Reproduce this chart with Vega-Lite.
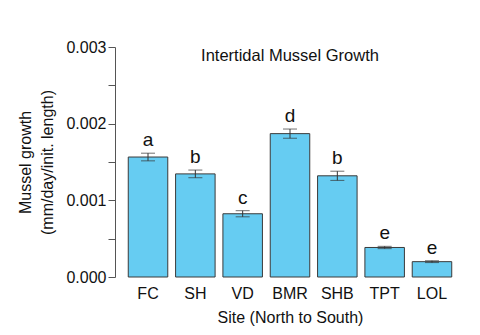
{
  "$schema": "https://vega.github.io/schema/vega-lite/v6.json",
  "autosize": "none",
  "width": 350,
  "height": 230,
  "padding": {"left": 115, "top": 47, "right": 15, "bottom": 58},
  "background": "white",
  "config": {
    "font": "Liberation Sans",
    "view": {"stroke": null}
  },
  "title": {
    "text": "Intertidal Mussel Growth",
    "fontSize": 16.5,
    "fontWeight": "normal",
    "color": "#111",
    "anchor": "middle",
    "offset": -25
  },
  "data": {
    "values": [
      {"site": "FC", "mean": 0.001565, "se": 0.00005, "group": "a"},
      {"site": "SH", "mean": 0.001345, "se": 0.00005, "group": "b"},
      {"site": "VD", "mean": 0.000825, "se": 0.00004, "group": "c"},
      {"site": "BMR", "mean": 0.00187, "se": 0.00006, "group": "d"},
      {"site": "SHB", "mean": 0.00132, "se": 0.00006, "group": "b"},
      {"site": "TPT", "mean": 0.000385, "se": 0.000015, "group": "e"},
      {"site": "LOL", "mean": 0.0002, "se": 0.000012, "group": "e"}
    ]
  },
  "transform": [
    {"calculate": "datum.mean + datum.se", "as": "hi"}
  ],
  "encoding": {
    "x": {
      "field": "site",
      "type": "nominal",
      "sort": null,
      "scale": {"paddingInner": 0.165, "paddingOuter": 0.28},
      "axis": {
        "title": "Site (North to South)",
        "titleFontSize": 16,
        "titleFontWeight": "normal",
        "titleColor": "#111",
        "titlePadding": 8,
        "labelAngle": 0,
        "labelFontSize": 16,
        "labelColor": "#111",
        "labelPadding": 8,
        "ticks": false,
        "domain": false
      }
    },
    "y": {
      "field": "mean",
      "type": "quantitative",
      "title": ["Mussel growth", "(mm/day/init. length)"],
      "scale": {"domain": [0, 0.003], "nice": false},
      "axis": {
        "titleFontSize": 16,
        "titleFontWeight": "normal",
        "titleColor": "#111",
        "titlePadding": 10,
        "titleLineHeight": 22,
        "values": [0, 0.0005, 0.001, 0.0015, 0.002, 0.0025, 0.003],
        "labelExpr": "datum.value * 1000 % 1 == 0 ? format(datum.value, '.3f') : ''",
        "labelFontSize": 16,
        "labelColor": "#111",
        "labelPadding": 2,
        "tickSize": 7,
        "tickColor": "#555",
        "domainColor": "#555",
        "grid": false
      }
    }
  },
  "resolve": {"axis": {"y": "independent"}},
  "layer": [
    {
      "mark": {"type": "bar", "color": "#66CCF2", "stroke": "#3a3a3a", "strokeWidth": 1}
    },
    {
      "mark": {"type": "errorbar", "color": "#333", "ticks": {"size": 14, "color": "#333"}},
      "encoding": {
        "y": {"field": "mean", "type": "quantitative", "axis": null},
        "yError": {"field": "se"}
      }
    },
    {
      "mark": {"type": "text", "fontSize": 19, "color": "#111", "baseline": "alphabetic", "dy": -7},
      "encoding": {
        "y": {"field": "hi", "type": "quantitative", "axis": null},
        "text": {"field": "group"}
      }
    }
  ]
}
